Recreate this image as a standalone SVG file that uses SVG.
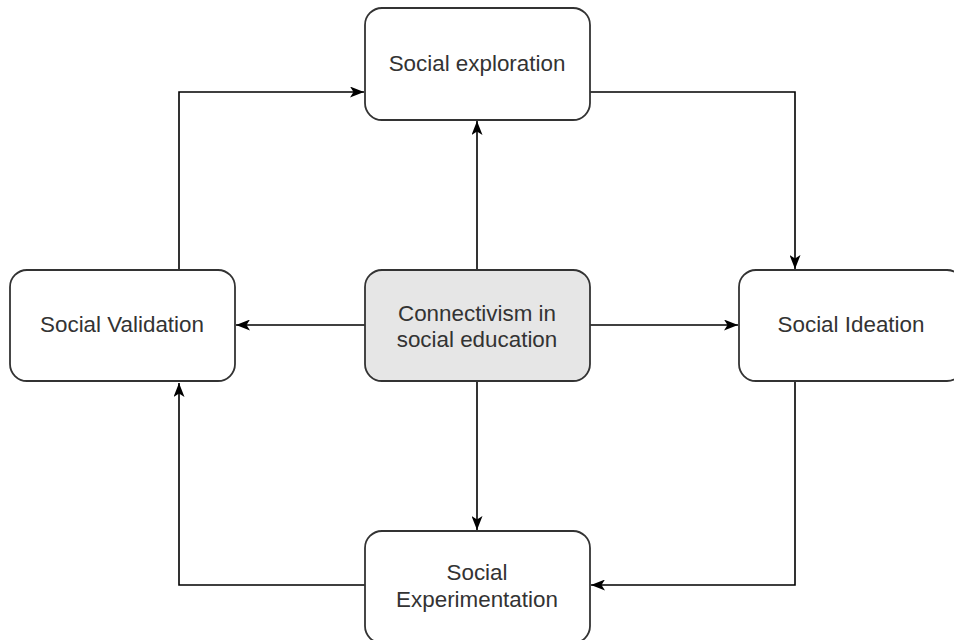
<svg xmlns="http://www.w3.org/2000/svg" width="954" height="640" viewBox="0 0 954 640">
<style>
.box{fill:#ffffff;stroke:#333333;stroke-width:1.8}
.center{fill:#e6e6e6}
.lbl{font-family:"Liberation Sans",Arial,sans-serif;font-size:22.4px;fill:#333333;text-anchor:middle}
.edge{fill:none;stroke:#000000;stroke-width:1.6;marker-end:url(#arr)}
</style>
<defs>
<marker id="arr" viewBox="0 0 14 11" refX="14" refY="5.5" markerWidth="14" markerHeight="11" markerUnits="userSpaceOnUse" orient="auto">
<path d="M0,0 L14,5.5 L0,11 L3.5,5.5 Z" fill="#000000"/>
</marker>
</defs>
<rect width="954" height="640" fill="#ffffff"/>
<g id="connectors">
<path class="edge" d="M477,270 L477,121"/>
<path class="edge" d="M365,325 L236,325"/>
<path class="edge" d="M590,325 L738,325"/>
<path class="edge" d="M477,381 L477,530"/>
<path class="edge" d="M590,92 L795,92 L795,269"/>
<path class="edge" d="M795,382 L795,585 L591,585"/>
<path class="edge" d="M365,585 L179,585 L179,383"/>
<path class="edge" d="M179,270 L179,92 L364,92"/>
</g>
<g id="exploration">
<rect class="box" x="365" y="8" width="225" height="112" rx="17"/>
<text class="lbl" x="477" y="71">Social exploration</text>
</g>
<g id="center">
<rect class="box center" x="365" y="270" width="225" height="111" rx="17"/>
<text class="lbl" x="477" y="321">Connectivism in</text>
<text class="lbl" x="477" y="347">social education</text>
</g>
<g id="validation">
<rect class="box" x="10" y="270" width="225" height="111" rx="17"/>
<text class="lbl" x="122" y="332">Social Validation</text>
</g>
<g id="ideation">
<rect class="box" x="739" y="270" width="225" height="111" rx="17"/>
<text class="lbl" x="851" y="332">Social Ideation</text>
</g>
<g id="experimentation">
<rect class="box" x="365" y="531" width="225" height="112" rx="17"/>
<text class="lbl" x="477" y="580">Social</text>
<text class="lbl" x="477" y="607">Experimentation</text>
</g>
</svg>
